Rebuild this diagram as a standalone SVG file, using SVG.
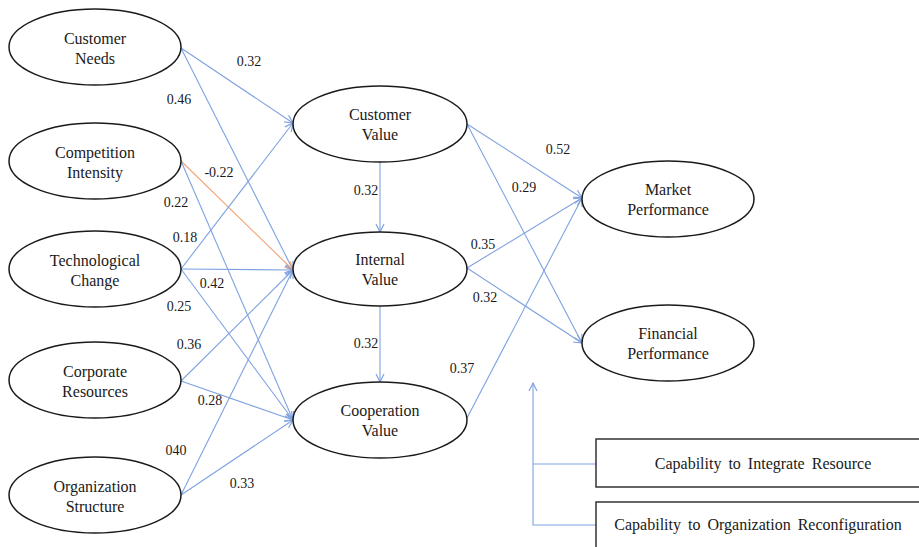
<svg xmlns="http://www.w3.org/2000/svg" width="919" height="547" viewBox="0 0 919 547">
<style>
.n{fill:#fff;stroke:#1a1a1a;stroke-width:1.5}
.t{font-family:'Liberation Serif','Times New Roman','DejaVu Serif',serif;font-size:16px;fill:#1a1a1a;text-anchor:middle}
.l{font-family:'Liberation Serif','Times New Roman','DejaVu Serif',serif;font-size:14px;fill:#1a1a1a;text-anchor:middle}
.c{fill:none;stroke:#7fa2e0;stroke-width:1.1}
.o{fill:none;stroke:#f2a373;stroke-width:1.1}
.b{fill:#fff;stroke:#333;stroke-width:1.5}
.bt{font-family:'Liberation Serif','Times New Roman','DejaVu Serif',serif;font-size:16px;fill:#1a1a1a;text-anchor:middle;word-spacing:3px}
</style>
<defs>
<marker id="a" markerUnits="userSpaceOnUse" markerWidth="12" markerHeight="12" refX="9" refY="5" orient="auto"><path d="M1,1 L9,5 L1,9" fill="none" stroke="#7fa2e0" stroke-width="1.2"/></marker>
<marker id="ao" markerUnits="userSpaceOnUse" markerWidth="12" markerHeight="12" refX="9" refY="5" orient="auto"><path d="M1,1 L9,5 L1,9" fill="none" stroke="#f2a373" stroke-width="1.2"/></marker>
</defs>
<g id="connectors">
<line class="c" x1="181" y1="48" x2="293" y2="123" marker-end="url(#a)"/>
<line class="c" x1="181" y1="48" x2="293" y2="270" marker-end="url(#a)"/>
<line class="o" x1="181" y1="161" x2="293" y2="270" marker-end="url(#ao)"/>
<line class="c" x1="181" y1="161" x2="293" y2="420" marker-end="url(#a)"/>
<line class="c" x1="181" y1="269" x2="293" y2="123" marker-end="url(#a)"/>
<line class="c" x1="181" y1="269" x2="293" y2="270" marker-end="url(#a)"/>
<line class="c" x1="181" y1="269" x2="293" y2="420" marker-end="url(#a)"/>
<line class="c" x1="181" y1="381" x2="293" y2="270" marker-end="url(#a)"/>
<line class="c" x1="181" y1="381" x2="293" y2="420" marker-end="url(#a)"/>
<line class="c" x1="181" y1="495" x2="293" y2="270" marker-end="url(#a)"/>
<line class="c" x1="181" y1="495" x2="293" y2="420" marker-end="url(#a)"/>
<line class="c" x1="380" y1="162" x2="380" y2="232" marker-end="url(#a)"/>
<line class="c" x1="380" y1="306" x2="380" y2="382" marker-end="url(#a)"/>
<line class="c" x1="467" y1="124" x2="582" y2="198" marker-end="url(#a)"/>
<line class="c" x1="467" y1="124" x2="582" y2="343" marker-end="url(#a)"/>
<line class="c" x1="467" y1="268" x2="582" y2="198" marker-end="url(#a)"/>
<line class="c" x1="467" y1="268" x2="582" y2="343" marker-end="url(#a)"/>
<line class="c" x1="467" y1="418" x2="582" y2="198" marker-end="url(#a)"/>
<polyline class="c" points="596,525 533,525 533,383" marker-end="url(#a)"/>
<line class="c" x1="533" y1="464" x2="596" y2="464"/>
</g>
<g id="labels">
<text class="l" x="249" y="66">0.32</text>
<text class="l" x="179" y="104">0.46</text>
<text class="l" x="219" y="177">-0.22</text>
<text class="l" x="176" y="207">0.22</text>
<text class="l" x="185" y="242">0.18</text>
<text class="l" x="212" y="288">0.42</text>
<text class="l" x="179" y="311">0.25</text>
<text class="l" x="189" y="349">0.36</text>
<text class="l" x="210" y="405">0.28</text>
<text class="l" x="176" y="455">040</text>
<text class="l" x="242" y="488">0.33</text>
<text class="l" x="366" y="195">0.32</text>
<text class="l" x="366" y="348">0.32</text>
<text class="l" x="558" y="154">0.52</text>
<text class="l" x="524" y="192">0.29</text>
<text class="l" x="483" y="249">0.35</text>
<text class="l" x="485" y="302">0.32</text>
<text class="l" x="462" y="373">0.37</text>
</g>
<g id="customer-needs"><ellipse class="n" cx="95" cy="47" rx="86" ry="38"/><text class="t" x="95" y="44">Customer</text><text class="t" x="95" y="64">Needs</text></g>
<g id="competition-intensity"><ellipse class="n" cx="95" cy="161" rx="86" ry="38"/><text class="t" x="95" y="158">Competition</text><text class="t" x="95" y="178">Intensity</text></g>
<g id="technological-change"><ellipse class="n" cx="95" cy="269" rx="86" ry="38"/><text class="t" x="95" y="266">Technological</text><text class="t" x="95" y="286">Change</text></g>
<g id="corporate-resources"><ellipse class="n" cx="95" cy="380" rx="86" ry="38"/><text class="t" x="95" y="377">Corporate</text><text class="t" x="95" y="397">Resources</text></g>
<g id="organization-structure"><ellipse class="n" cx="95" cy="495" rx="86" ry="38"/><text class="t" x="95" y="492">Organization</text><text class="t" x="95" y="512">Structure</text></g>
<g id="customer-value"><ellipse class="n" cx="380" cy="124" rx="87" ry="38"/><text class="t" x="380" y="120">Customer</text><text class="t" x="380" y="140">Value</text></g>
<g id="internal-value"><ellipse class="n" cx="380" cy="269" rx="87" ry="37"/><text class="t" x="380" y="265">Internal</text><text class="t" x="380" y="285">Value</text></g>
<g id="cooperation-value"><ellipse class="n" cx="380" cy="420" rx="87" ry="38"/><text class="t" x="380" y="416">Cooperation</text><text class="t" x="380" y="436">Value</text></g>
<g id="market-performance"><ellipse class="n" cx="668" cy="199" rx="86" ry="38"/><text class="t" x="668" y="195">Market</text><text class="t" x="668" y="215">Performance</text></g>
<g id="financial-performance"><ellipse class="n" cx="668" cy="343" rx="86" ry="38"/><text class="t" x="668" y="339">Financial</text><text class="t" x="668" y="359">Performance</text></g>
<g id="capability-integrate"><rect class="b" x="596" y="439" width="326" height="48"/><text class="bt" x="763" y="469">Capability to Integrate Resource</text></g>
<g id="capability-reconfiguration"><rect class="b" x="596" y="502" width="326" height="50"/><text class="bt" x="758" y="530">Capability to Organization Reconfiguration</text></g>
</svg>
